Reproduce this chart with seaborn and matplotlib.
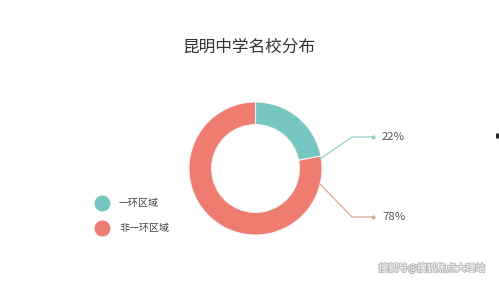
import matplotlib
matplotlib.use("Agg")
import matplotlib.pyplot as plt
import matplotlib.patheffects as pe
import seaborn as sns
import numpy as np

categories = ["一环区域", "非一环区域"]
shares = [22, 78]
value_labels = ["22%", "78%"]
title = "昆明中学名校分布"
watermark = "搜狐号@搜狐焦点大理站"

sns.set_theme(style="white")
plt.rcParams["font.family"] = ["Noto Sans CJK SC", "DejaVu Sans"]

colors = ["#76c7c1", "#ee7c71"]
line_colors = ["#8fd0cb", "#d9a894"]

W, H = 499, 281
fig = plt.figure(figsize=(W / 100, H / 100), dpi=100)
fig.patch.set_facecolor("white")
ax = fig.add_axes([0, 0, 1, 1])

cx, cy, R = 255.5, H - 168.5, 66.5
wedges, _ = ax.pie(
    shares, colors=colors, startangle=90, counterclock=False,
    center=(cx, cy), radius=R,
    wedgeprops=dict(width=R * 0.34, edgecolor="#f4f4f4", linewidth=0.8),
)
ax.set_xlim(0, W)
ax.set_ylim(0, H)
ax.set_aspect("equal")
ax.axis("off")

# leader lines from the ring to the percentage labels
leaders = [
    [(320, H - 159), (352, H - 137), (373, H - 137)],
    [(318, H - 182), (352, H - 217), (373, H - 217)],
]
for pts, lc, lab in zip(leaders, line_colors, value_labels):
    xs, ys = zip(*pts)
    ax.plot(xs, ys, color=lc, lw=0.9, solid_capstyle="round")
    ax.plot(xs[-1], ys[-1], "o", color=lc, ms=2)
    ax.text(xs[-1] + 9, ys[-1], lab, fontsize=8.2, color="#555555",
            va="center", ha="left")

ax.text(249, H - 47, title, fontsize=12, color="#333333",
        ha="center", va="center")

# legend
for i, (cat, c) in enumerate(zip(categories, colors)):
    y = H - (203 + 25 * i)
    ax.plot(102, y, "o", color=c, ms=10.5)
    ax.text(119, y, cat, fontsize=7.2, color="#444444", va="center", ha="left")

ax.plot([497, 497], [H - 132.5, H - 137.5], color="black", lw=1.8,
        solid_capstyle="butt")

ax.text(432, H - 268, watermark, fontsize=7, color="white",
        ha="center", va="center",
        path_effects=[pe.withStroke(linewidth=1.3, foreground="#b8b8b8")])

fig.savefig("out.png", dpi=100, facecolor="white")
